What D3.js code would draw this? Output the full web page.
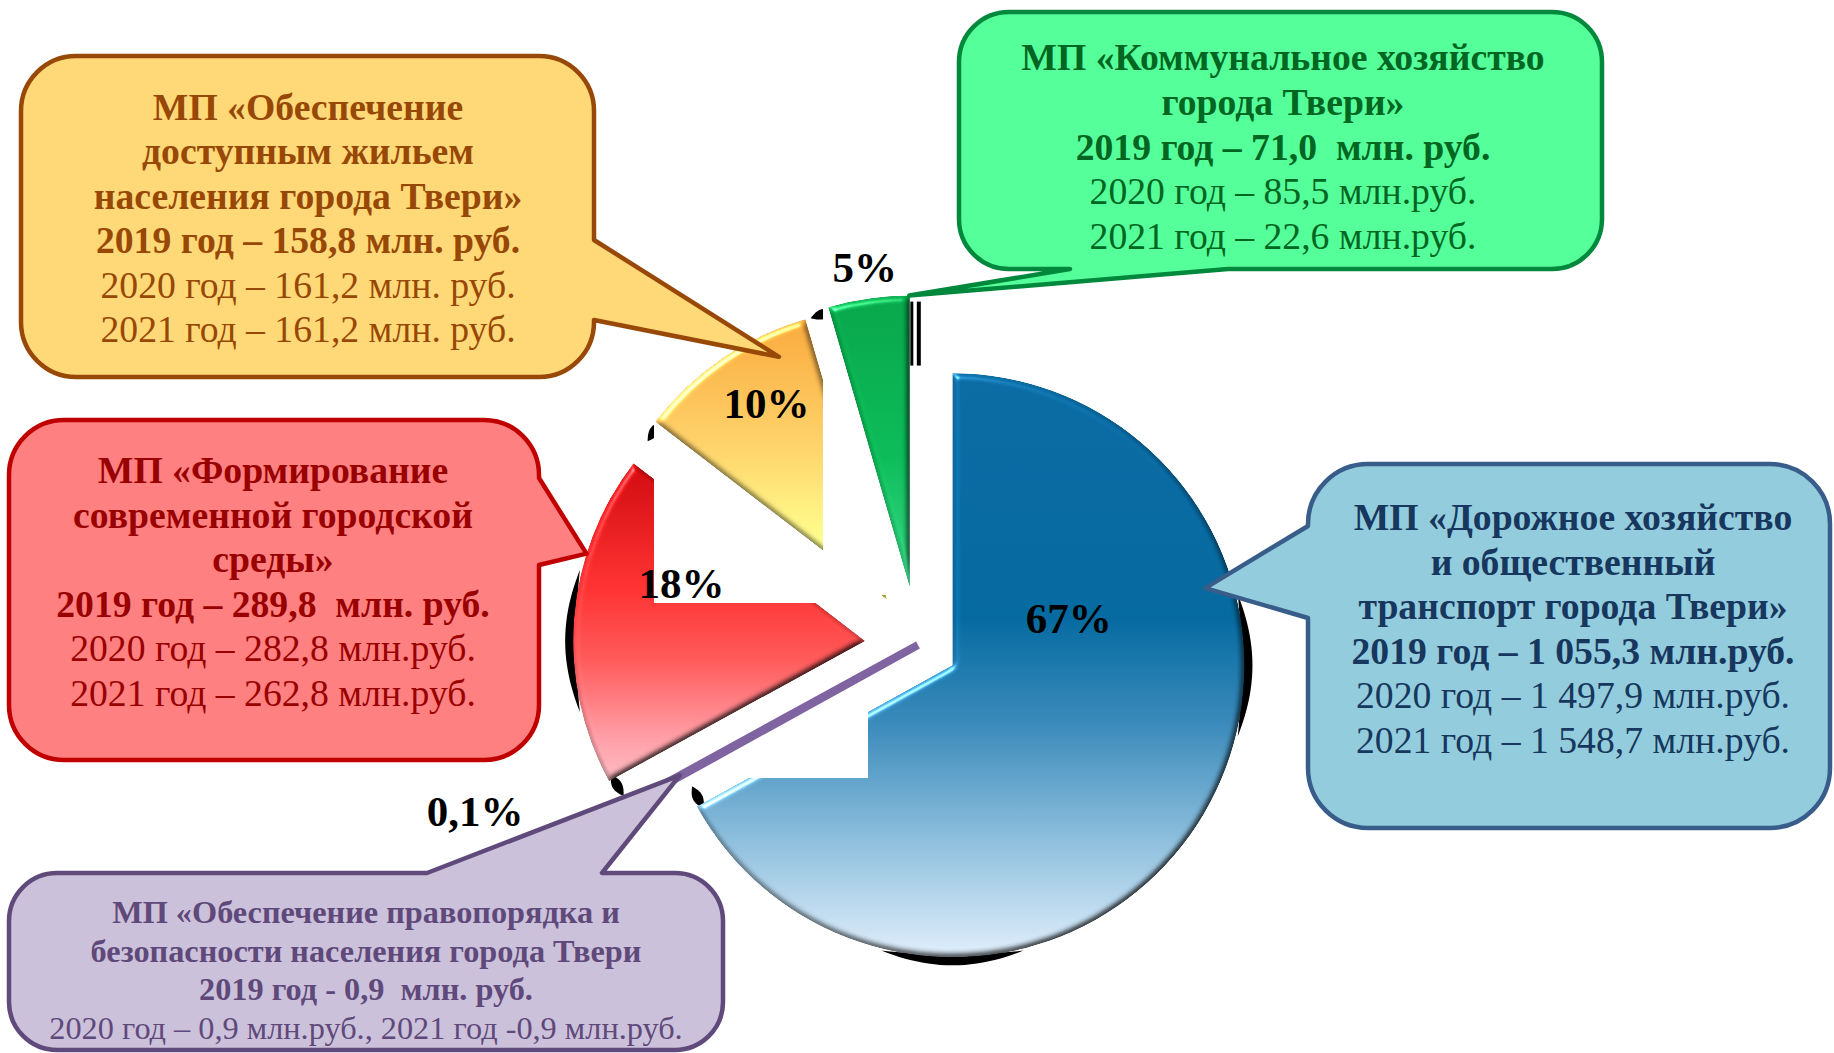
<!DOCTYPE html>
<html>
<head>
<meta charset="utf-8">
<script src="https://cdn.jsdelivr.net/npm/d3@7"></script>
<style>
  body { margin: 0; background: #fff; }
  text { font-family: "Liberation Serif", "Times New Roman", serif; white-space: pre; }
</style>
</head>
<body>
<svg id="chart" width="1834" height="1053"></svg>
<script>
// ---- data (2019 values drive the pie) ----
const categories = [
  "Дорожное хозяйство и общественный транспорт",
  "Обеспечение правопорядка и безопасности",
  "Формирование современной городской среды",
  "Обеспечение доступным жильем",
  "Коммунальное хозяйство"
];
const values2019 = [1055.3, 0.9, 289.8, 158.8, 71.0];
const values2020 = [1497.9, 0.9, 282.8, 161.2, 85.5];
const values2021 = [1548.7, 0.9, 262.8, 161.2, 22.6];

const calloutLines = [
  ["МП «Дорожное хозяйство", "и общественный", "транспорт города Твери»",
   "2019 год – 1 055,3 млн.руб.", "2020 год – 1 497,9 млн.руб.", "2021 год – 1 548,7 млн.руб."],
  ["МП «Обеспечение правопорядка и", "безопасности населения города Твери",
   "2019 год - 0,9  млн. руб.", "2020 год – 0,9 млн.руб., 2021 год -0,9 млн.руб."],
  ["МП «Формирование", "современной городской", "среды»",
   "2019 год – 289,8  млн. руб.", "2020 год – 282,8 млн.руб.", "2021 год – 262,8 млн.руб."],
  ["МП «Обеспечение", "доступным жильем", "населения города Твери»",
   "2019 год – 158,8 млн. руб.", "2020 год – 161,2 млн. руб.", "2021 год – 161,2 млн. руб."],
  ["МП «Коммунальное хозяйство", "города Твери»",
   "2019 год – 71,0  млн. руб.", "2020 год – 85,5 млн.руб.", "2021 год – 22,6 млн.руб."]
];
const boldLineCount = [4, 3, 4, 4, 3];

// ---- layout / style ----
const svg = d3.select("#chart");
const C = { x: 918, y: 645 };
const R = 292;
const explode = [40, 0, 53, 55, 58];
const gradStops = [
  [[0, "#0b6ba3"], [0.42, "#056aa0"], [0.6, "#3a8aba"], [0.8, "#8dbedc"], [1, "#e0eefb"]],
  [[0, "#8064a2"], [1, "#8064a2"]],
  [[0, "#cf0a0e"], [0.4, "#ff3333"], [0.62, "#ff5a5a"], [0.85, "#ff9aa2"], [1, "#ffbcc4"]],
  [[0, "#f9a93d"], [0.45, "#fdd26a"], [0.8, "#ffff8e"], [1, "#ffff45"]],
  [[0, "#07a64a"], [0.55, "#0cbb58"], [1, "#38da87"]]
];
// percent label: [angle deg, radius as share of R] from the slice centre
const labelPos = [[68, 0.43], [249.4, 1.62], [287.6, 0.66], [328.5, 0.79], [352, 1.11]];
// slices are drawn in this order, white patches in between
const drawOrder = [0, "patchC", 1, 2, "patchA", 3, "patchB", 4];
const patches = {
  patchA: [654, 380, 169, 223],
  patchB: [823, 295, 83, 300],
  patchC: [655, 603, 213, 175]
};
const callouts = [
  { box: [1308, 464, 522, 364], r: 60, side: "left", base: [526, 618], tip: [73, 0.905],
    fill: "#93cddd", stroke: "#385d8a", color: "#17375e", size: 37.7, cx: 1573, y0: 530, dy: 44.6 },
  { box: [9, 873, 714, 177], r: 48, side: "top", base: [427, 602], tip: [241.3, 0.93],
    fill: "#ccc1da", stroke: "#604a7b", color: "#5f497a", size: 32.3, cx: 366, y0: 923, dy: 38.5 },
  { box: [9, 420, 530, 340], r: 55, side: "right", base: [478, 565], tip: [287.4, 1.0],
    fill: "#ff8080", stroke: "#c00000", color: "#990000", size: 37.7, cx: 273, y0: 483, dy: 44.6 },
  { box: [21, 56, 573, 321], r: 55, side: "right", base: [240, 320], tip: [336, 0.91],
    fill: "#ffd978", stroke: "#984807", color: "#984806", size: 37.7, cx: 308, y0: 120, dy: 44.4 },
  { box: [959, 12, 643, 257], r: 50, side: "bottom", base: [1070, 1228], tip: [359.9, 1.0],
    fill: "#55ff99", stroke: "#00893c", color: "#006622", size: 37.7, cx: 1283, y0: 70, dy: 44.8 }
];

const rad = d => d * Math.PI / 180;
const deg = a => a * 180 / Math.PI;
const polar = (c, aDeg, r) => [c.x + r * Math.sin(rad(aDeg)), c.y - r * Math.cos(rad(aDeg))];

// ---- pie ----
const total = d3.sum(values2019);
const pie = d3.pie().sort(null).value(d => d)(values2019);
const arc = d3.arc().innerRadius(0).outerRadius(R);

const slices = pie.map((p, i) => {
  const mid = deg((p.startAngle + p.endAngle) / 2);
  const [x, y] = polar(C, mid, explode[i]);
  return { p, i, c: { x, y }, a0: deg(p.startAngle), a1: deg(p.endAngle) };
});

const defs = svg.append("defs");
gradStops.forEach((stops, i) => {
  const g = defs.append("linearGradient").attr("id", "grad" + i)
    .attr("x1", 0).attr("y1", 0).attr("x2", 0).attr("y2", 1);
  stops.forEach(s => g.append("stop").attr("offset", s[0]).attr("stop-color", s[1]));
});

// soft bevel for slices
const f = defs.append("filter").attr("id", "bevel")
  .attr("color-interpolation-filters", "sRGB")
  .attr("x", "-5%").attr("y", "-5%").attr("width", "110%").attr("height", "110%");
f.append("feGaussianBlur").attr("in", "SourceAlpha").attr("stdDeviation", 3).attr("result", "b");
f.append("feDiffuseLighting").attr("in", "b").attr("surfaceScale", 4).attr("diffuseConstant", 1)
  .attr("lighting-color", "#fff").attr("result", "d")
  .append("feDistantLight").attr("azimuth", 235).attr("elevation", 60);
f.append("feComposite").attr("in", "SourceGraphic").attr("in2", "d").attr("operator", "arithmetic")
  .attr("k1", 1.155).attr("k2", 0).attr("k3", 0).attr("k4", 0).attr("result", "shade");
f.append("feSpecularLighting").attr("in", "b").attr("surfaceScale", 4).attr("specularConstant", 0.9)
  .attr("specularExponent", 40).attr("lighting-color", "#fff").attr("result", "s")
  .append("feDistantLight").attr("azimuth", 235).attr("elevation", 35);
f.append("feComposite").attr("in", "s").attr("in2", "SourceAlpha").attr("operator", "in").attr("result", "si");
f.append("feComposite").attr("in", "shade").attr("in2", "si").attr("operator", "arithmetic")
  .attr("k1", 0).attr("k2", 1).attr("k3", 0.6).attr("k4", 0).attr("result", "lit");
f.append("feComposite").attr("in", "lit").attr("in2", "SourceAlpha").attr("operator", "in");

// black shadow crescents behind the rim
function lens(c, a0, a1, rMid, t) {
  const n = 24, outer = [], inner = [];
  for (let k = 0; k <= n; k++) {
    const u = k / n, a = a0 + (a1 - a0) * u, h = t / 2 * Math.sin(Math.PI * u);
    outer.push(polar(c, a, rMid + h));
    inner.unshift(polar(c, a, rMid - h));
  }
  return d3.line()(outer.concat(inner)) + "Z";
}
const shadow = svg.append("g").attr("fill", "#000");
slices.forEach(s => {
  if (s.i === 1) return;
  [90, 180, 270].forEach(cd => {
    if (cd > s.a0 && cd < s.a1) shadow.append("path").attr("d", lens(s.c, cd - 14, cd + 14, R + 2, 12));
  });
});
[[0, "end"], [2, "start"], [3, "start"], [4, "start"]].forEach(([i, side]) => {
  const s = slices[i];
  const d = side === "start" ? lens(s.c, s.a0 - 4, s.a0 + 1, R - 5, 10) : lens(s.c, s.a1 - 1, s.a1 + 4, R - 5, 10);
  shadow.append("path").attr("d", d);
});
// two dark streaks beside the green slice's right edge
[[2, 3], [9, 4]].forEach(([off, w]) => {
  const s = slices[4];
  shadow.append("line")
    .attr("x1", s.c.x + off).attr("x2", s.c.x + off)
    .attr("y1", s.c.y - R + 6).attr("y2", s.c.y - R + 70)
    .attr("stroke", "#000").attr("stroke-width", w);
});

const pieG = svg.append("g");
drawOrder.forEach(item => {
  if (typeof item === "string") {
    const r = patches[item];
    pieG.append("rect").attr("x", r[0]).attr("y", r[1]).attr("width", r[2]).attr("height", r[3]).attr("fill", "#fff");
    return;
  }
  const s = slices[item];
  const path = pieG.append("path")
    .attr("d", arc(s.p))
    .attr("transform", `translate(${s.c.x},${s.c.y})`)
    .attr("fill", `url(#grad${item})`);
  if (item === 1) {
    path.attr("stroke", "#8064a2").attr("stroke-width", 8).attr("stroke-linejoin", "miter");
  } else {
    path.attr("filter", "url(#bevel)");
  }
});

// percent labels
const fmtPct = v => {
  const p = v / total * 100;
  return (p < 1 ? (Math.ceil(p * 10) / 10).toFixed(1) : String(Math.round(p))).replace(".", ",") + "%";
};
svg.append("g").selectAll("text").data(slices).enter().append("text")
  .attr("x", s => polar(s.c, labelPos[s.i][0], labelPos[s.i][1] * R)[0])
  .attr("y", s => polar(s.c, labelPos[s.i][0], labelPos[s.i][1] * R)[1])
  .attr("dy", "0.35em")
  .attr("text-anchor", "middle")
  .attr("font-size", 43)
  .attr("font-weight", "bold")
  .attr("fill", "#000")
  .text(s => fmtPct(values2019[s.i]));

// ---- callouts ----
function calloutPath(o, tip) {
  const [x, y, w, h] = o.box, r = o.r, [b1, b2] = o.base;
  const t = `${tip[0]},${tip[1]}`;
  let d = `M${x + r},${y}`;
  if (o.side === "top") d += `L${b1},${y}L${t}L${b2},${y}`;
  d += `L${x + w - r},${y}A${r},${r} 0 0 1 ${x + w},${y + r}`;
  if (o.side === "right") d += `L${x + w},${b1}L${t}L${x + w},${b2}`;
  d += `L${x + w},${y + h - r}A${r},${r} 0 0 1 ${x + w - r},${y + h}`;
  if (o.side === "bottom") d += `L${b2},${y + h}L${t}L${b1},${y + h}`;
  d += `L${x + r},${y + h}A${r},${r} 0 0 1 ${x},${y + h - r}`;
  if (o.side === "left") d += `L${x},${b2}L${t}L${x},${b1}`;
  d += `L${x},${y + r}A${r},${r} 0 0 1 ${x + r},${y}Z`;
  return d;
}

callouts.forEach((o, i) => {
  const s = slices[i];
  const tip = polar(s.c, o.tip[0], o.tip[1] * R);
  const g = svg.append("g").attr("class", "callout");
  g.append("path")
    .attr("d", calloutPath(o, tip))
    .attr("fill", o.fill)
    .attr("stroke", o.stroke)
    .attr("stroke-width", 4.5)
    .attr("stroke-linejoin", "round");
  g.selectAll("text").data(calloutLines[i]).enter().append("text")
    .attr("x", o.cx)
    .attr("y", (d, k) => o.y0 + k * o.dy)
    .attr("text-anchor", "middle")
    .attr("font-size", o.size)
    .attr("font-weight", (d, k) => k < boldLineCount[i] ? "bold" : "normal")
    .attr("fill", o.color)
    .text(d => d);
});
</script>
</body>
</html>
